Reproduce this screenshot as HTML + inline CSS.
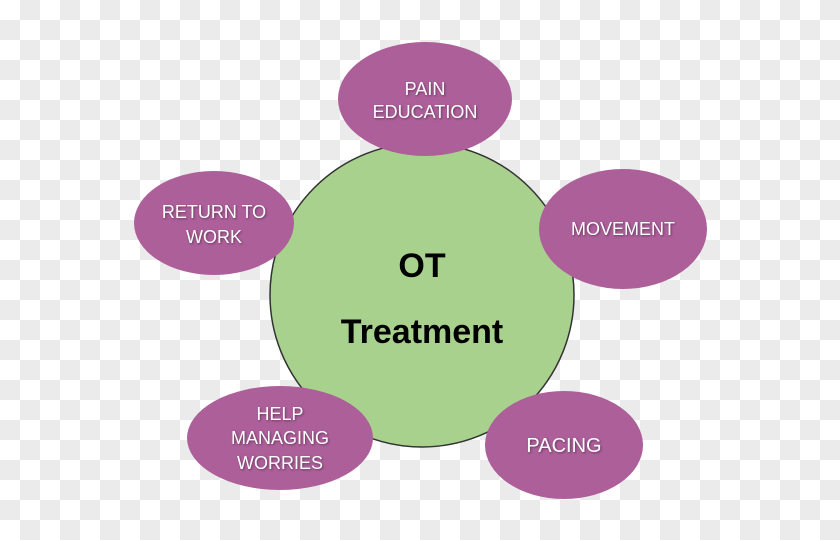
<!DOCTYPE html>
<html><head><style>
html,body{margin:0;padding:0}
body{width:840px;height:540px;overflow:hidden;background-color:#fff;
background-image:conic-gradient(#fff 0 25%,#ebebeb 0 50%,#fff 0 75%,#ebebeb 0);background-size:40px 40px;background-position:20px 0;}
svg{display:block}
text{font-family:"Liberation Sans",sans-serif;}
.w{fill:#fff;font-size:18px;text-anchor:middle;filter:drop-shadow(1px 1px 1px rgba(0,0,0,.4))}
</style></head><body>
<svg width="840" height="540" viewBox="0 0 840 540">
<circle cx="422" cy="295" r="152" fill="#a9d18e" stroke="#333" stroke-width="1.5"/>
<g fill="#ad5f9a">
<ellipse cx="425" cy="99" rx="87" ry="57"/>
<ellipse cx="214" cy="223" rx="80" ry="52"/>
<ellipse cx="623" cy="229" rx="84" ry="60"/>
<ellipse cx="280" cy="438" rx="93" ry="52"/>
<ellipse cx="564" cy="445" rx="79" ry="54"/>
</g>
<text class="w" x="425" y="95">PAIN</text>
<text class="w" x="425" y="118">EDUCATION</text>
<text class="w" x="214" y="218">RETURN TO</text>
<text class="w" x="214" y="243">WORK</text>
<text class="w" x="623" y="235">MOVEMENT</text>
<text class="w" x="280" y="420">HELP</text>
<text class="w" x="280" y="444">MANAGING</text>
<text class="w" x="280" y="469">WORRIES</text>
<text class="w" x="564" y="452" style="font-size:20px">PACING</text>
<text x="422" y="277" font-size="34" font-weight="bold" text-anchor="middle">OT</text>
<text x="422" y="343" font-size="34" font-weight="bold" text-anchor="middle">Treatment</text>
</svg>
</body></html>
